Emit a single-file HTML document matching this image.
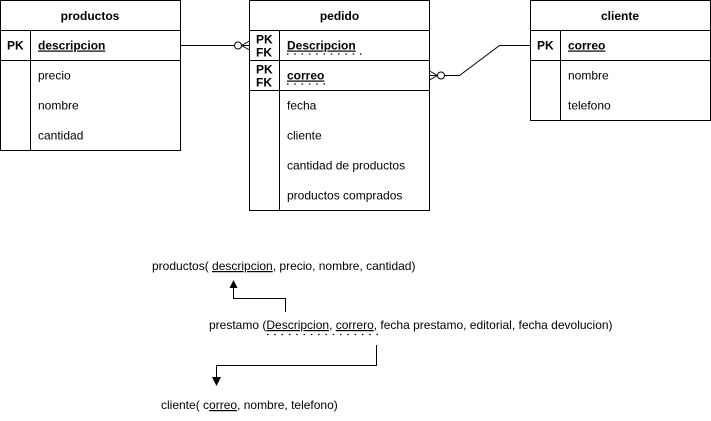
<!DOCTYPE html>
<html><head><meta charset="utf-8"><style>
html,body{margin:0;padding:0;background:#fff;}
svg{display:block;}
text{font-family:"Liberation Sans",Arial,sans-serif;font-size:12px;fill:#000;}
.b{font-weight:bold;}
</style></head><body>
<svg width="711" height="421" viewBox="0 0 711 421" xmlns="http://www.w3.org/2000/svg">
<g fill="none" stroke="#000" stroke-width="1">
<rect x="0.5" y="0.5" width="180" height="150"/>
<line x1="0.5" y1="30.5" x2="180.5" y2="30.5"/>
<line x1="0.5" y1="60.5" x2="180.5" y2="60.5"/>
<line x1="30.5" y1="30.5" x2="30.5" y2="150.5"/>
<rect x="249.5" y="0.5" width="180" height="210"/>
<line x1="249.5" y1="30.5" x2="429.5" y2="30.5"/>
<line x1="249.5" y1="60.5" x2="429.5" y2="60.5"/>
<line x1="249.5" y1="90.5" x2="429.5" y2="90.5"/>
<line x1="279.5" y1="30.5" x2="279.5" y2="210.5"/>
<rect x="530.5" y="0.5" width="180" height="120"/>
<line x1="530.5" y1="30.5" x2="710.5" y2="30.5"/>
<line x1="530.5" y1="60.5" x2="710.5" y2="60.5"/>
<line x1="560.5" y1="30.5" x2="560.5" y2="120.5"/>
<line x1="180.5" y1="45.5" x2="234.5" y2="45.5"/>
<circle cx="238" cy="45.5" r="3.5"/>
<path d="M241.5 45.5 L249.5 41 M241.5 45.5 L249.5 50 M241.5 45.5 L249.5 45.5"/>
<path d="M444.5 75.5 L459.5 75.5 L499.5 45.5 L530.5 45.5"/>
<circle cx="441" cy="75.5" r="3.5"/>
<path d="M437.5 75.5 L429.5 71 M437.5 75.5 L429.5 80 M437.5 75.5 L429.5 75.5"/>
<path d="M285.5 312 L285.5 298.5 L233.5 298.5 L233.5 287"/>
<path d="M376.5 345 L376.5 365.5 L216.5 365.5 L216.5 378"/>
</g>
<path d="M229.5 288 L233.5 280 L237.5 288 Z" fill="#000"/>
<path d="M212 377 L216.5 386 L221 377 Z" fill="#000"/>
<g stroke="#000" stroke-width="1.2" stroke-dasharray="1.5,5.8" fill="none">
<line x1="287" y1="54" x2="363" y2="54"/>
<line x1="287" y1="84" x2="330" y2="84"/>
<line x1="267" y1="334.5" x2="380" y2="334.5"/>
</g>
<text x="90" y="20" class="b" text-anchor="middle">productos</text>
<text x="7" y="49.5" class="b">PK</text>
<text x="38" y="49.5" class="b" text-decoration="underline">descripcion</text>
<text x="38" y="79.5">precio</text>
<text x="38" y="109.5">nombre</text>
<text x="38" y="139.5">cantidad</text>
<text x="339.5" y="20" class="b" text-anchor="middle">pedido</text>
<text x="256" y="43.5" class="b">PK</text>
<text x="256" y="56.5" class="b">FK</text>
<text x="287" y="49.5" class="b" text-decoration="underline">Descripcion</text>
<text x="256" y="73.5" class="b">PK</text>
<text x="256" y="86.5" class="b">FK</text>
<text x="287" y="79.5" class="b" text-decoration="underline">correo</text>
<text x="287" y="109.5">fecha</text>
<text x="287" y="139.5">cliente</text>
<text x="287" y="169.5">cantidad de productos</text>
<text x="287" y="199.5">productos comprados</text>
<text x="620" y="20" class="b" text-anchor="middle">cliente</text>
<text x="537" y="49.5" class="b">PK</text>
<text x="568" y="49.5" class="b" text-decoration="underline">correo</text>
<text x="568" y="79.5">nombre</text>
<text x="568" y="109.5">telefono</text>
<text x="152" y="270">productos( <tspan text-decoration="underline">descripcion</tspan>, precio, nombre, cantidad)</text>
<text x="209" y="329">prestamo (<tspan text-decoration="underline">Descripcion</tspan>, <tspan text-decoration="underline">correro</tspan>, fecha prestamo, editorial, fecha devolucion)</text>
<text x="161" y="409">cliente( c<tspan text-decoration="underline">orreo</tspan>, nombre, telefono)</text>
</svg>
</body></html>
